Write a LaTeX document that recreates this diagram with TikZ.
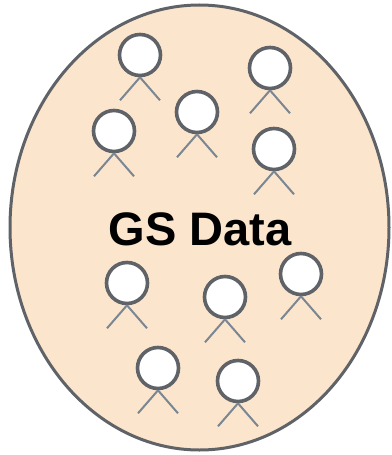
\documentclass[tikz,border=0pt]{standalone}
\usepackage{fontspec}
\setmainfont{Liberation Sans}
\usetikzlibrary{shapes.geometric, positioning}
\definecolor{GSPeach}{RGB}{252, 229, 205}
\definecolor{GSBorder}{RGB}{95, 99, 104}
\definecolor{GSLeg}{RGB}{122, 134, 146}

\begin{document}
\begin{tikzpicture}[
    x=1pt, y=-1pt,
    % --- STYLES ---
    % Data set: peach ellipse
    dataset/.style={
        ellipse,
        draw=GSBorder,
        line width=3pt,
        fill=GSPeach,
        minimum width=379pt,
        minimum height=445pt,
        inner sep=0pt
    },
    % Person head: white circle
    head/.style={
        circle,
        draw=GSBorder,
        line width=3.6pt,
        fill=white,
        minimum size=41pt,
        inner sep=0pt
    },
    % Legs: thin grey lines
    leg/.style={
        draw=GSLeg,
        line width=2pt
    },
    % Label
    title/.style={
        font=\bfseries\fontsize{47}{47}\selectfont,
        text=black
    }
]
\useasboundingbox (0,0) rectangle (391,455);

% --- 1. DATA SET ---
\node (data) [dataset] at (199.5,227.5) {};
\node (label) [title] at (200,229.5) {GS Data};

% --- 2. PEOPLE ---
\foreach \px/\py [count=\i] in {140/55, 270/68, 114/131, 197/112, 274/149,
                                 127/283, 225/297, 301/274, 158/368, 238/381} {
    \node (head\i) [head] at (\px,\py) {};
    \draw [leg] (head\i.south) -- ++(-20,23);
    \draw [leg] (head\i.south) -- ++(20,23);
}

\end{tikzpicture}
\end{document}
